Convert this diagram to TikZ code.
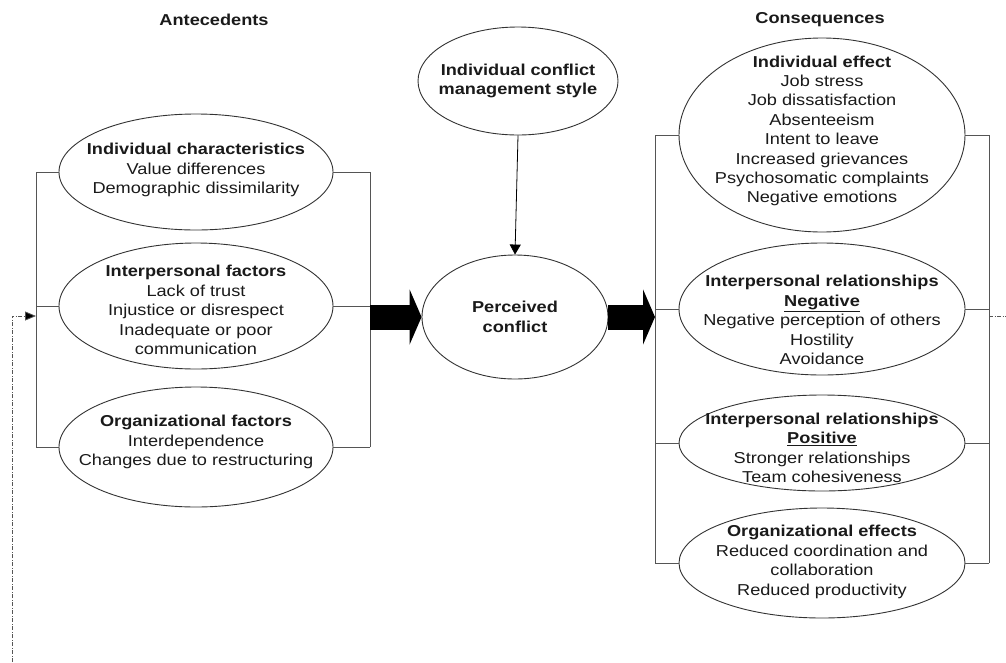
\documentclass[tikz,border=0pt]{standalone}
\usepackage{fontspec}
\setmainfont[FakeStretch=1.15]{Liberation Sans}
\usetikzlibrary{shapes.geometric,arrows.meta}
\definecolor{linegray}{HTML}{555555}
\definecolor{edgegray}{HTML}{333333}
\definecolor{txtcol}{HTML}{1A1A1A}
\begin{document}
\begin{tikzpicture}[x=1pt,y=-1pt,
  oval/.style={draw=edgegray, line width=0.9pt, ellipse, inner sep=0pt, fill=white},
  txt/.style={align=center, inner sep=0pt, text=txtcol, font=\fontsize{15.8}{19.4}\selectfont},
  bracketline/.style={draw=linegray, line width=1pt},
  blockarrow/.style={line width=25pt, -{Triangle[length=12pt,width=55pt]}},
  feedback/.style={draw=linegray, line width=0.8pt, dash pattern=on 4pt off 1.5pt on 1pt off 1.5pt}
]
\useasboundingbox (0,0) rectangle (1006,662);

% headers
\node[txt] (hA) at (214,20) {\textbf{Antecedents}};
\node[txt] (hC) at (820,20) {\textbf{Consequences}};

% ellipses
\node[oval, minimum width=274pt, minimum height=116pt] (L1) at (196,172) {};
\node[oval, minimum width=274pt, minimum height=126pt] (L2) at (196,306) {};
\node[oval, minimum width=274pt, minimum height=120pt] (L3) at (196,447) {};
\node[oval, minimum width=200pt, minimum height=108pt] (T) at (518,81) {};
\node[oval, minimum width=186pt, minimum height=124pt] (P) at (515,317) {};
\node[oval, minimum width=286pt, minimum height=194pt] (R1) at (822,135) {};
\node[oval, minimum width=286pt, minimum height=132pt] (R2) at (822,309) {};
\node[oval, minimum width=286pt, minimum height=96pt] (R3) at (822,443) {};
\node[oval, minimum width=286pt, minimum height=110pt] (R4) at (822,563) {};

% texts
\node[txt] (tL1) at (196,170) {\textbf{Individual characteristics}\\Value differences\\Demographic dissimilarity};
\node[txt] (tL2) at (196,310) {\textbf{Interpersonal factors}\\Lack of trust\\Injustice or disrespect\\Inadequate or poor\\communication};
\node[txt] (tL3) at (196,442) {\textbf{Organizational factors}\\Interdependence\\Changes due to restructuring};
\node[txt] (tT) at (518,81) {\textbf{Individual conflict}\\\textbf{management style}};
\node[txt] (tP) at (515,317) {\textbf{Perceived}\\\textbf{conflict}};
\node[txt] (tR1) at (822,131) {\textbf{Individual effect}\\Job stress\\Job dissatisfaction\\Absenteeism\\Intent to leave\\Increased grievances\\Psychosomatic complaints\\Negative emotions};
\node[txt] (tR2) at (822,320) {\textbf{Interpersonal relationships}\\\underline{\textbf{Negative}}\\Negative perception of others\\Hostility\\Avoidance};
\node[txt] (tR3) at (822,448) {\textbf{Interpersonal relationships}\\\underline{\textbf{Positive}}\\Stronger relationships\\Team cohesiveness};
\node[txt] (tR4) at (822,562) {\textbf{Organizational effects}\\Reduced coordination and\\collaboration\\Reduced productivity};

% left brackets
\coordinate (lb1) at (36,172);
\coordinate (lb2) at (36,306);
\coordinate (lb3) at (36,447);
\coordinate (rb1) at (370,172);
\coordinate (rb2) at (370,306);
\coordinate (rb3) at (370,447);
\draw[bracketline] (lb1) -- (lb3);
\draw[bracketline] (rb1) -- (rb3);
\draw[bracketline] (lb1) -- (L1.west);
\draw[bracketline] (lb2) -- (L2.west);
\draw[bracketline] (lb3) -- (L3.west);
\draw[bracketline] (rb1) -- (L1.east);
\draw[bracketline] (rb2) -- (L2.east);
\draw[bracketline] (rb3) -- (L3.east);

% right brackets
\coordinate (lc1) at (655,135);
\coordinate (lc2) at (655,309);
\coordinate (lc3) at (655,443);
\coordinate (lc4) at (655,563);
\coordinate (rc1) at (989,135);
\coordinate (rc2) at (989,309);
\coordinate (rc3) at (989,443);
\coordinate (rc4) at (989,563);
\draw[bracketline] (lc1) -- (lc4);
\draw[bracketline] (rc1) -- (rc4);
\draw[bracketline] (lc1) -- (R1.west);
\draw[bracketline] (lc2) -- (R2.west);
\draw[bracketline] (lc3) -- (R3.west);
\draw[bracketline] (lc4) -- (R4.west);
\draw[bracketline] (rc1) -- (R1.east);
\draw[bracketline] (rc2) -- (R2.east);
\draw[bracketline] (rc3) -- (R3.east);
\draw[bracketline] (rc4) -- (R4.east);

% block arrows
\coordinate (aL) at (370,317);
\coordinate (aR) at (655,317);
\draw[blockarrow] (aL) -- (P.west);
\draw[blockarrow] (P.east) -- (aR);

% style arrow
\draw[black, line width=0.8pt, -{Triangle[length=10pt,width=11pt]}] (T.south) -- (P.north);

% feedback loop
\coordinate (fb0) at (12,662);
\coordinate (fb1) at (12,316);
\coordinate (fbin) at (36,316);
\coordinate (fbs) at (989,316);
\coordinate (fbout) at (1006,316);
\draw[feedback, -{Triangle[length=11pt,width=9pt,fill=black]}] (fb0) -- (fb1) -- (fbin);
\draw[feedback] (fbs) -- (fbout);
\end{tikzpicture}
\end{document}
